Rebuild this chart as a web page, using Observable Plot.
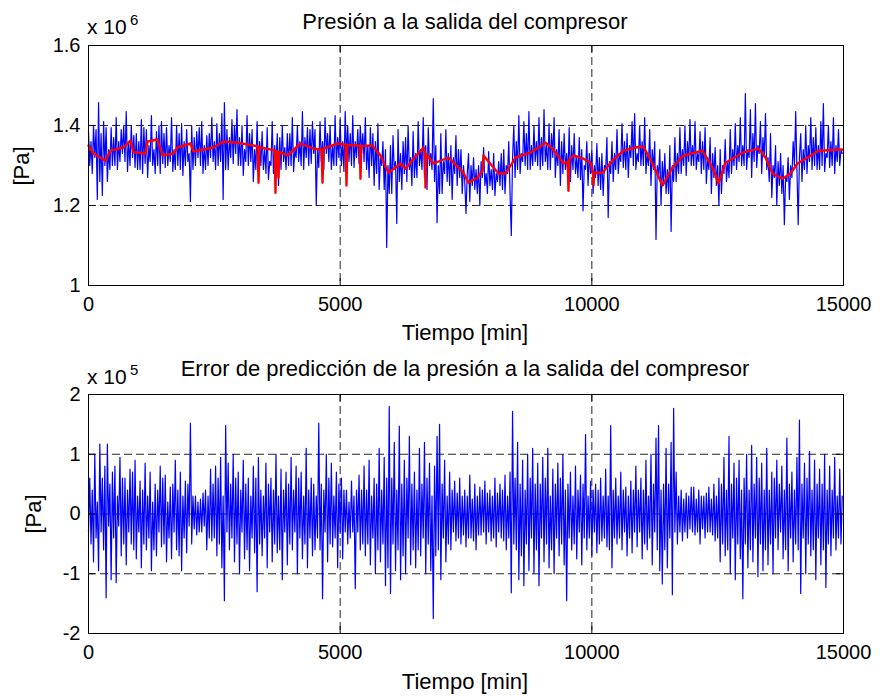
<!DOCTYPE html>
<html>
<head>
<meta charset="utf-8">
<script src="https://cdn.jsdelivr.net/npm/d3@7"></script>
<script src="https://cdn.jsdelivr.net/npm/@observablehq/plot@0.6"></script>
<style>
  html, body { margin: 0; padding: 0; background: #fff; }
  #wrap { position: relative; width: 880px; height: 696px; background: #fff; overflow: hidden; }
  #top, #bottom { position: absolute; left: 0; }
  #top { top: 0; }
  #bottom { top: 348px; }
  #overlay { position: absolute; left: 0; top: 0; pointer-events: none; }
  text { font-family: "Liberation Sans", Arial, Helvetica, sans-serif; }
</style>
</head>
<body>
<div id="wrap">
  <div id="top"></div>
  <div id="bottom"></div>
  <svg id="overlay" width="880" height="696"></svg>
</div>
<script>
// ---- data ----
const sampleStep = 25; // minutes between samples of the blue series

// Measured pressure at compressor outlet, kPa (axis shown in x 10^6 Pa); 20 samples per row = 500 min
const pressureKPa = [
  1385, 1300, 1360, 1280, 1400, 1320, 1390, 1215, 1457, 1260, 1380, 1225, 1410, 1300, 1395, 1260, 1340, 1290, 1395, 1300,
  1370, 1300, 1420, 1290, 1360, 1310, 1390, 1330, 1400, 1310, 1435, 1285, 1360, 1300, 1400, 1320, 1375, 1295, 1380, 1290,
  1360, 1290, 1415, 1280, 1395, 1305, 1390, 1270, 1350, 1310, 1425, 1300, 1340, 1280, 1385, 1300, 1400, 1280, 1410, 1305,
  1380, 1295, 1395, 1300, 1350, 1310, 1420, 1285, 1340, 1290, 1400, 1300, 1380, 1290, 1405, 1275, 1360, 1300, 1390, 1310,
  1330, 1210, 1400, 1290, 1370, 1300, 1385, 1320, 1395, 1300, 1410, 1280, 1350, 1290, 1375, 1300, 1380, 1320, 1420, 1310,
  1360, 1290, 1405, 1300, 1380, 1310, 1430, 1215, 1457, 1290, 1390, 1290, 1370, 1320, 1415, 1305, 1400, 1330, 1440, 1300,
  1370, 1300, 1400, 1275, 1340, 1310, 1425, 1300, 1380, 1310, 1390, 1260, 1340, 1290, 1410, 1295, 1360, 1300, 1385, 1290,
  1340, 1280, 1395, 1265, 1310, 1300, 1410, 1280, 1350, 1300, 1380, 1250, 1370, 1290, 1400, 1310, 1345, 1290, 1380, 1300,
  1380, 1300, 1420, 1285, 1340, 1320, 1400, 1310, 1360, 1300, 1435, 1290, 1370, 1320, 1395, 1300, 1390, 1305, 1410, 1330,
  1390, 1200, 1340, 1295, 1410, 1310, 1360, 1290, 1420, 1330, 1380, 1310, 1400, 1290, 1350, 1300, 1425, 1300, 1370, 1320,
  1415, 1300, 1360, 1285, 1435, 1320, 1400, 1310, 1380, 1300, 1425, 1295, 1360, 1320, 1390, 1305, 1400, 1330, 1380, 1310,
  1420, 1290, 1350, 1270, 1395, 1300, 1380, 1250, 1360, 1280, 1405, 1240, 1320, 1300, 1360, 1240, 1340, 1095, 1300, 1230,
  1350, 1230, 1375, 1290, 1310, 1155, 1390, 1260, 1330, 1240, 1360, 1280, 1370, 1260, 1400, 1290, 1320, 1250, 1385, 1270,
  1330, 1270, 1410, 1300, 1340, 1290, 1420, 1270, 1350, 1240, 1395, 1300, 1330, 1290, 1467, 1260, 1350, 1157, 1300, 1230,
  1380, 1230, 1310, 1280, 1390, 1260, 1330, 1250, 1350, 1215, 1320, 1280, 1375, 1250, 1340, 1270, 1340, 1230, 1300, 1260,
  1180, 1280, 1330, 1210, 1300, 1250, 1320, 1240, 1290, 1230, 1300, 1200, 1310, 1270, 1345, 1250, 1280, 1230, 1335, 1250,
  1290, 1240, 1330, 1225, 1280, 1260, 1310, 1250, 1330, 1240, 1340, 1230, 1300, 1280, 1360, 1230, 1125, 1320, 1400, 1270,
  1360, 1290, 1425, 1280, 1330, 1310, 1410, 1300, 1380, 1290, 1435, 1290, 1350, 1300, 1400, 1310, 1360, 1300, 1420, 1290,
  1370, 1300, 1440, 1310, 1350, 1290, 1405, 1290, 1380, 1320, 1420, 1270, 1340, 1300, 1390, 1250, 1360, 1280, 1380, 1290,
  1330, 1270, 1395, 1260, 1350, 1290, 1380, 1280, 1320, 1270, 1370, 1265, 1340, 1187, 1300, 1290, 1360, 1250, 1330, 1280,
  1340, 1230, 1300, 1270, 1355, 1250, 1320, 1240, 1330, 1225, 1300, 1290, 1370, 1170, 1310, 1280, 1360, 1260, 1330, 1290,
  1390, 1280, 1330, 1310, 1405, 1295, 1360, 1290, 1380, 1270, 1350, 1320, 1410, 1300, 1430, 1290, 1330, 1310, 1400, 1300,
  1360, 1300, 1420, 1280, 1330, 1300, 1390, 1250, 1340, 1290, 1360, 1115, 1300, 1270, 1340, 1200, 1310, 1250, 1330, 1230,
  1290, 1230, 1350, 1135, 1300, 1260, 1370, 1260, 1330, 1280, 1395, 1280, 1340, 1300, 1400, 1275, 1360, 1310, 1415, 1300,
  1350, 1300, 1410, 1290, 1330, 1310, 1385, 1280, 1360, 1290, 1395, 1255, 1320, 1290, 1370, 1230, 1330, 1270, 1345, 1250,
  1300, 1200, 1340, 1230, 1300, 1280, 1365, 1260, 1310, 1270, 1390, 1280, 1340, 1300, 1405, 1290, 1350, 1310, 1420, 1300,
  1350, 1300, 1480, 1290, 1340, 1320, 1440, 1270, 1380, 1310, 1455, 1295, 1350, 1330, 1410, 1280, 1370, 1320, 1430, 1290,
  1320, 1260, 1380, 1220, 1300, 1270, 1350, 1200, 1310, 1250, 1330, 1230, 1300, 1152, 1270, 1260, 1320, 1215, 1300, 1270,
  1360, 1300, 1435, 1290, 1152, 1320, 1380, 1260, 1340, 1290, 1400, 1280, 1350, 1310, 1420, 1290, 1370, 1300, 1395, 1290,
  1350, 1290, 1410, 1300, 1455, 1285, 1330, 1320, 1400, 1295, 1360, 1300, 1420, 1280, 1350, 1310, 1390, 1300, 1340, 1330
];

// Predicted pressure (red), [minute, kPa]
const predictedKPa = [
  [0,1350],[99,1330],[338,1312],[437,1337],[695,1345],[834,1362],[894,1333],
  [1132,1330],[1172,1360],[1371,1365],[1470,1325],[1689,1330],[1768,1345],
  [2026,1355],[2086,1335],[2483,1345],[2682,1360],[2960,1357],[3278,1350],
  [3360,1348],[3378,1257],[3395,1346],[3700,1338],[3715,1232],[3730,1336],
  [3760,1334],[3775,1270],[3790,1334],[3815,1333],[3954,1325],[4212,1355],
  [4470,1342],[4630,1340],[4649,1257],[4668,1342],[4947,1355],[5110,1352],
  [5126,1250],[5142,1351],[5344,1350],[5390,1349],[5404,1267],[5420,1349],
  [5642,1350],[5801,1325],[5960,1282],[6199,1305],[6298,1292],[6457,1317],
  [6656,1345],[6680,1335],[6695,1245],[6710,1328],[6735,1325],[6854,1305],
  [7152,1320],[7252,1307],[7450,1282],[7550,1257],[7728,1270],[7828,1287],
  [7848,1325],[8046,1295],[8146,1280],[8285,1280],[8424,1307],[8483,1320],
  [8781,1332],[9080,1357],[9219,1342],[9437,1305],[9520,1310],[9536,1237],
  [9552,1315],[9636,1325],[9834,1317],[9974,1307],[10020,1285],[10033,1250],
  [10046,1282],[10212,1282],[10411,1312],[10629,1337],[10868,1345],[11027,1347],
  [11205,1305],[11404,1250],[11603,1295],[11821,1325],[12199,1337],[12398,1295],
  [12517,1255],[12656,1307],[12994,1332],[13311,1342],[13451,1320],[13590,1280],
  [13788,1267],[13947,1280],[14086,1305],[14245,1317],[14503,1337],[14980,1340]
];

// Prediction error, kPa (axis shown in x 10^5 Pa); 20 samples per row = 500 min
const errorKPa = [
  -30, 60, -50, 40, -80, 100, -40, 20, -95, 117, -30, 60, -60, 80, -140, 117, -20, 50, -110, 70,
  -40, 80, -115, 30, -20, 95, -70, 60, -50, 60, -85, 40, -30, 75, -50, 70, -60, 90, -75, 30,
  -30, 55, -90, 40, -50, 85, -60, 30, -40, 70, -95, 20, -60, 50, -70, 40, -30, 80, -55, 60,
  -50, 65, -80, 20, -40, 45, -75, 50, -30, 90, -60, 40, -70, 70, -95, 30, -40, 55, -65, 50,
  -20, 152, -50, 30, -25, 30, -35, 20, -30, 25, -30, 35, -20, 40, -60, 30, -40, 75, -45, 50,
  -40, 80, -70, 60, -50, 95, -90, 30, -145, 148, -30, 85, -60, 50, -40, 100, -80, 60, -50, 70,
  -100, 40, -30, 90, -75, 50, -60, 60, -95, 30, -40, 80, -65, 60, -130, 95, -50, 40, -70, 30,
  -40, 85, -90, 50, -30, 60, -80, 40, -50, 100, -65, 30, -60, 75, -110, 40, -30, 70, -85, 50,
  -50, 95, -60, 40, -30, 80, -100, 60, -40, 70, -75, 30, -50, 110, -90, 40, -40, 60, -70, 50,
  -60, 30, -40, 152, -60, 50, -142, 40, -30, 100, -80, 60, -50, 85, -55, 30, -40, 70, -90, 50,
  -30, 60, -75, 40, -30, 40, -50, 20, -40, 55, -30, 30, -125, 40, -30, 65, -60, 40, -50, 80,
  -70, 40, -50, 90, -85, 30, -40, 60, -100, 50, -60, 110, -80, 40, -50, 95, -120, 60, -90, 180,
  -133, 60, -50, 120, -95, 40, -60, 147, -110, 50, -70, 90, -100, 60, -40, 130, -85, 50, -60, 70,
  -90, 40, -60, 110, -70, 50, -40, 120, -100, 60, -50, 85, -95, 30, -175, 80, -70, 130, -60, 150,
  -110, 50, -40, 90, -80, 30, -50, 70, -60, 40, -30, 55, -45, 35, -40, 60, -50, 30, -35, 40,
  -55, 30, -40, 65, -40, 25, -45, 50, -60, 30, -35, 45, -35, 40, -30, 55, -50, 35, -30, 40,
  -45, 30, -40, 60, -55, 35, -30, 50, -40, 40, -45, 65, -60, 30, -40, 70, -132, 172, -50, 60,
  -60, 120, -110, 50, -70, 90, -120, 40, -50, 100, -95, 60, -40, 110, -100, 50, -60, 85, -120, 50,
  -40, 95, -80, 60, -50, 110, -90, 30, -60, 75, -100, 50, -40, 85, -70, 60, -50, 100, -85, 40,
  -145, 50, -40, 70, -60, 30, -50, 80, -75, 40, -30, 65, -85, 50, -40, 133, -60, 30, -40, 55,
  -70, 40, -30, 50, -65, 40, -50, 60, -45, 30, -40, 75, -55, 30, -60, 148, -90, 40, -40, 60,
  -50, 30, -40, 70, -60, 40, -30, 45, -70, 30, -40, 55, -65, 40, -30, 80, -55, 40, -30, 60,
  -75, 40, -50, 90, -60, 30, -40, 100, -85, 50, -30, 127, -60, 148, -95, 40, -117, 50, -60, 110,
  -90, 50, -40, 120, -135, 177, -30, 70, -50, 30, -30, 40, -45, 25, -30, 35, -40, 30, -25, 45,
  -30, 45, -35, 25, -30, 40, -50, 30, -25, 30, -40, 35, -30, 45, -30, 25, -35, 50, -45, 30,
  -40, 60, -80, 50, -50, 95, -70, 40, -60, 130, -100, 50, -40, 85, -110, 60, -50, 90, -75, 40,
  -142, 60, -50, 100, -90, 40, -60, 115, -80, 50, -40, 95, -105, 60, -50, 85, -95, 40, -60, 110,
  -85, 40, -50, 70, -100, 60, -40, 90, -60, 50, -30, 80, -75, 40, -60, 127, -95, 50, -40, 70,
  -80, 40, -50, 95, -60, 157, -133, 50, -40, 85, -100, 60, -50, 105, -70, 40, -60, 90, -110, 50,
  -40, 75, -85, 50, -60, 100, -123, 40, -50, 80, -70, 40, -40, 95, -60, 30, -40, 75, -50, 30
];

const xTicks = [0, 5000, 10000, 15000];
const xGrid = [5000, 10000];
const yTicksTop = [1, 1.2, 1.4, 1.6];
const yGridTop = [1.2, 1.4];
const yTicksBottom = [-2, -1, 0, 1, 2];
const yGridBottom = [-1, 0, 1];

const titles = ["Presión a la salida del compresor", "Error de predicción de la presión a la salida del compresor"];
const xLabel = "Tiempo [min]";
const yLabel = "[Pa]";
const exponents = ["6", "5"];

// ---- build ----
const FONT = '"Liberation Sans", Arial, Helvetica, sans-serif';
const W = 880, H = 348, ML = 88, MR = 37, MB = 63;

const pressure = pressureKPa.map((p, i) => ({t: i * sampleStep, v: p / 1000}));
const predicted = predictedKPa.map(([t, p]) => ({t, v: p / 1000}));
const errorData = errorKPa.map((e, i) => ({t: i * sampleStep, v: e / 100}));

function panel({marginTop, yDomain, yTicks, yGrid, lines}) {
  const innerH = H - marginTop - MB;
  const innerW = W - ML - MR;
  const tick = 7;
  return Plot.plot({
    width: W, height: H,
    marginLeft: ML, marginRight: MR, marginTop, marginBottom: MB,
    style: {fontFamily: FONT, fontSize: "20px", color: "black", background: "transparent", overflow: "visible"},
    x: {domain: [0, 15000]},
    y: {domain: yDomain},
    marks: [
      Plot.ruleY(yGrid, {stroke: "#000", strokeWidth: 1, strokeDasharray: "8,4", strokeOpacity: 0.85}),
      Plot.ruleX(xGrid, {stroke: "#000", strokeWidth: 1, strokeDasharray: "8,4", strokeOpacity: 0.85}),
      ...lines,
      Plot.tickX(xTicks, {x: d => d, insetTop: innerH - tick, stroke: "#000"}),
      Plot.tickX(xTicks, {x: d => d, insetBottom: innerH - tick, stroke: "#000"}),
      Plot.tickY(yTicks, {y: d => d, insetRight: innerW - tick, stroke: "#000"}),
      Plot.tickY(yTicks, {y: d => d, insetLeft: innerW - tick, stroke: "#000"}),
      Plot.frame({stroke: "#000", strokeWidth: 1}),
      Plot.axisX({ticks: xTicks, tickSize: 0, tickPadding: 11, tickFormat: d3.format("d"), label: null, fontSize: 20}),
      Plot.axisY({ticks: yTicks, tickSize: 0, tickPadding: 8, tickFormat: d => String(d), label: null, fontSize: 20})
    ]
  });
}

const topChart = panel({
  marginTop: 45, yDomain: [1, 1.6], yTicks: yTicksTop, yGrid: yGridTop,
  lines: [
    Plot.line(pressure, {x: "t", y: "v", stroke: "#0000ff", strokeWidth: 1.2}),
    Plot.line(predicted, {x: "t", y: "v", stroke: "#ff0000", strokeWidth: 2.4})
  ]
});
const bottomChart = panel({
  marginTop: 46, yDomain: [-2, 2], yTicks: yTicksBottom, yGrid: yGridBottom,
  lines: [
    Plot.line(errorData, {x: "t", y: "v", stroke: "#0000ff", strokeWidth: 1.2})
  ]
});
document.getElementById("top").appendChild(topChart);
document.getElementById("bottom").appendChild(bottomChart);

// ---- text overlay ----
const ov = d3.select("#overlay");
function txt(s, x, y, size, anchor = "start", rotate = 0) {
  const t = ov.append("text").text(s)
    .attr("x", x).attr("y", y)
    .attr("font-size", size).attr("text-anchor", anchor)
    .attr("font-family", FONT).attr("fill", "#000");
  if (rotate) t.attr("transform", `rotate(${rotate},${x},${y})`);
  return t;
}
txt(titles[0], 465, 29, 22, "middle");
txt(titles[1], 465, 376, 22, "middle");
txt("x 10", 87, 34, 21);
txt(exponents[0], 130, 25, 15);
txt("x 10", 87, 384, 21);
txt(exponents[1], 130, 375, 15);
txt(xLabel, 465, 340, 22, "middle");
txt(xLabel, 465, 689, 22, "middle");
txt(yLabel, 29, 166, 22, "middle", -90);
txt(yLabel, 41, 514, 22, "middle", -90);
</script>
</body>
</html>
